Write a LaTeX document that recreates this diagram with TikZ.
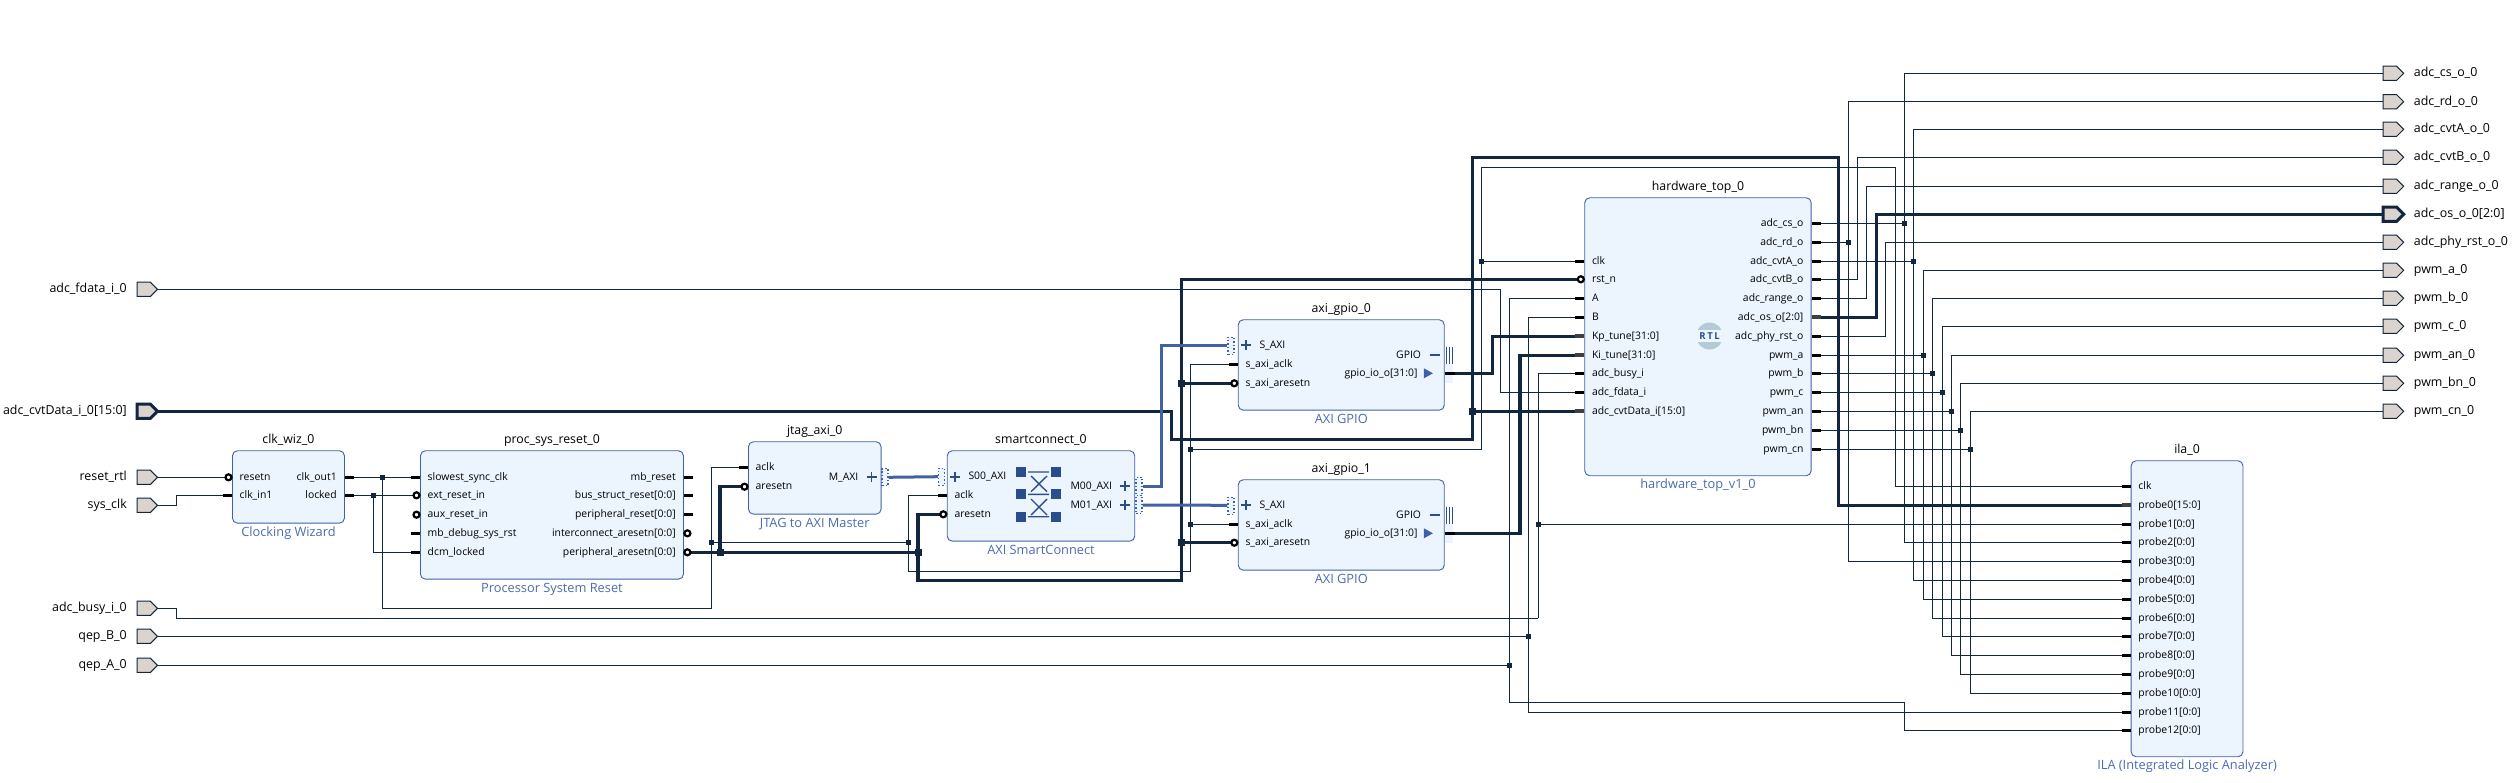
\documentclass[tikz,border=0pt]{standalone}
\usepackage{fontspec}
\setmainfont{Open Sans}
\usetikzlibrary{positioning,shapes.symbols}
\definecolor{wirecol}{HTML}{12263F}
\definecolor{ipblue}{HTML}{3F62A4}
\definecolor{icondark}{HTML}{2A4E8C}
\definecolor{ipfill}{HTML}{ECF4FE}
\definecolor{subcol}{HTML}{4A6CB0}
\definecolor{portfill}{HTML}{DBD3CE}
\definecolor{rtlcol}{HTML}{B4CAD6}
\pgfdeclarelayer{wires}
\pgfsetlayers{wires,main}
\tikzset{
    ipbox/.style={draw=ipblue, fill=ipfill, rounded corners=5pt, line width=0.9pt, anchor=north west, inner sep=0pt},
    iptitle/.style={font=\fontsize{12.3}{14}\selectfont, inner sep=0pt, text height=8.5pt, text depth=2.5pt},
    ipsub/.style={font=\fontsize{12.8}{14}\selectfont, text=subcol, inner sep=0pt, text height=8.5pt, text depth=2.5pt},
    pinl/.style={anchor=west, font=\fontsize{10.4}{11}\selectfont, inner xsep=7.5pt, inner ysep=0pt, text height=8.5pt, text depth=2pt},
    pinr/.style={anchor=east, font=\fontsize{10.4}{11}\selectfont, inner xsep=8pt, inner ysep=0pt, text height=8.5pt, text depth=2pt},
    stub/.style={black, line width=3pt},
    busstub/.style={black!75, line width=4pt},
    bubble/.style={draw=black, fill=white, line width=2.2pt},
    wire/.style={wirecol, line width=1pt},
    buswire/.style={wirecol, line width=3.2pt},
    axiwire/.style={ipblue, line width=3pt},
    axiplus/.style={icondark, line width=1.8pt},
    ifmark/.style={fill=ipfill, draw=ipblue, dash pattern=on 1.5pt off 2pt, line width=1.2pt, inner sep=0pt, minimum width=6pt},
    port/.style={signal, draw=wirecol, fill=portfill, line width=1pt, inner sep=0pt, outer sep=0pt, minimum width=20.5pt, minimum height=14.3pt, anchor=west},
    buswidth/.style={line width=3pt},
    portlab/.style={font=\fontsize{12.4}{14}\selectfont, inner sep=0pt, text height=9.5pt, text depth=2.5pt},
}

\begin{document}
\begin{tikzpicture}[x=1pt, y=-1pt]

\useasboundingbox (0,0) rectangle (2513,782);

\foreach \ip/\x/\y/\w/\h/\t/\s in {
    clk_wiz/232/450.3/112/72.4/clk\_wiz\_0/Clocking Wizard,
    proc_reset/420/450.3/263/128.4/proc\_sys\_reset\_0/Processor System Reset,
    jtag_axi/748/441.3/132.6/72.4/jtag\_axi\_0/JTAG to AXI Master,
    smartconnect/946.8/450.3/187.5/90.4/smartconnect\_0/AXI SmartConnect,
    axi_gpio_0/1237.8/319.3/206/90.4/axi\_gpio\_0/AXI GPIO,
    axi_gpio_1/1237.8/479.3/206/90.4/axi\_gpio\_1/AXI GPIO,
    hardware_top/1584.3/197.3/226.4/278/hardware\_top\_0/hardware\_top\_v1\_0,
    ila/2130.7/460.3/111.8/296/ila\_0/ILA (Integrated Logic Analyzer)}
{
    \node[ipbox, minimum width=\w pt, minimum height=\h pt] (\ip) at (\x,\y) {};
    \node[iptitle, above=4.5pt of \ip] (\ip_title) {\t};
    \node[ipsub, below=4pt of \ip] (\ip_sub) {\s};
}

\foreach \ip/\n/\y/\t in {
    clk_wiz/cw_clkin/495.3/clk\_in1,
    proc_reset/ps_slow/477.3/slowest\_sync\_clk,
    proc_reset/ps_debug/533.3/mb\_debug\_sys\_rst,
    proc_reset/ps_dcm/552.3/dcm\_locked,
    jtag_axi/ja_aclk/467.3/aclk,
    smartconnect/sc_aclk/495.3/aclk,
    axi_gpio_0/g0_aclk/364.3/s\_axi\_aclk,
    axi_gpio_1/g1_aclk/524.3/s\_axi\_aclk,
    hardware_top/hw_clk/261.3/clk,
    hardware_top/hw_A/298.3/A,
    hardware_top/hw_B/317.3/B,
    hardware_top/hw_kp/336.3/Kp\_tune[31:0],
    hardware_top/hw_ki/355.3/Ki\_tune[31:0],
    hardware_top/hw_busy/373.3/adc\_busy\_i,
    hardware_top/hw_fdata/392.3/adc\_fdata\_i,
    hardware_top/hw_cvt/411.3/adc\_cvtData\_i[15:0],
    ila/ila_clk/486.3/clk,
    ila/ila_0/505.3/probe0[15:0],
    ila/ila_1/524.3/probe1[0:0],
    ila/ila_2/542.3/probe2[0:0],
    ila/ila_3/561.3/probe3[0:0],
    ila/ila_4/580.3/probe4[0:0],
    ila/ila_5/599.3/probe5[0:0],
    ila/ila_6/618.3/probe6[0:0],
    ila/ila_7/636.3/probe7[0:0],
    ila/ila_8/655.3/probe8[0:0],
    ila/ila_9/674.3/probe9[0:0],
    ila/ila_10/693.3/probe10[0:0],
    ila/ila_11/712.3/probe11[0:0],
    ila/ila_12/730.3/probe12[0:0]}
{
    \node[pinl] (\n) at (\ip.west |- 0,\y) {\t};
    \draw[stub] (\n.west) -- ++(-9,0);
}

\foreach \ip/\n/\y/\t in {
    clk_wiz/cw_resetn/477.3/resetn,
    proc_reset/ps_ext/495.3/ext\_reset\_in,
    proc_reset/ps_aux/514.7/aux\_reset\_in,
    jtag_axi/ja_arst/486.7/aresetn,
    smartconnect/sc_arst/514.3/aresetn,
    axi_gpio_0/g0_arst/383.3/s\_axi\_aresetn,
    axi_gpio_1/g1_arst/542.7/s\_axi\_aresetn,
    hardware_top/hw_rst/279.3/rst\_n}
{
    \node[pinl] (\n) at (\ip.west |- 0,\y) {\t};
    \draw[bubble] (\n.west) ++(-3.5,0) circle (3);
}

\foreach \ip/\n/\y/\t in {
    clk_wiz/cw_out/477.3/clk\_out1,
    clk_wiz/cw_locked/495.3/locked,
    proc_reset/ps_mb/477.3/mb\_reset,
    proc_reset/ps_bus/495.3/bus\_struct\_reset[0:0],
    proc_reset/ps_per/514.7/peripheral\_reset[0:0],
    hardware_top/hw_cs/223.3/adc\_cs\_o,
    hardware_top/hw_rd/242.3/adc\_rd\_o,
    hardware_top/hw_cvtA/261.3/adc\_cvtA\_o,
    hardware_top/hw_cvtB/279.3/adc\_cvtB\_o,
    hardware_top/hw_range/298.3/adc\_range\_o,
    hardware_top/hw_os/317.3/adc\_os\_o[2:0],
    hardware_top/hw_phy/336.3/adc\_phy\_rst\_o,
    hardware_top/hw_a/355.3/pwm\_a,
    hardware_top/hw_b/373.3/pwm\_b,
    hardware_top/hw_c/392.3/pwm\_c,
    hardware_top/hw_an/411.3/pwm\_an,
    hardware_top/hw_bn/430.3/pwm\_bn,
    hardware_top/hw_cn/449.3/pwm\_cn}
{
    \node[pinr] (\n) at (\ip.east |- 0,\y) {\t};
    \draw[stub] (\n.east) -- ++(9,0);
}

\foreach \ip/\n/\y/\t in {
    proc_reset/ps_inter/533.3/interconnect\_aresetn[0:0],
    proc_reset/ps_parst/552.3/peripheral\_aresetn[0:0]}
{
    \node[pinr] (\n) at (\ip.east |- 0,\y) {\t};
    \draw[bubble] (\n.east) ++(3.5,0) circle (3);
}

\foreach \n in {hw_kp,hw_ki,hw_cvt,ila_0}
    \draw[busstub] (\n.west) -- ++(-9,0);
\draw[busstub] (hw_os.east) -- ++(9,0);

\foreach \ip/\n/\y/\t in {
    smartconnect/sc_s00/476.7/S00\_AXI,
    axi_gpio_0/g0_saxi/345.3/S\_AXI,
    axi_gpio_1/g1_saxi/505.3/S\_AXI}
{
    \node[pinl, inner xsep=21.5pt] (\n) at (\ip.west |- 0,\y) {\t};
    \draw[axiplus] (\n.west) ++(8.5,-5) -- ++(0,10) ++(-5,-5) -- ++(10,0);
}

\foreach \ip/\n/\y/\t in {
    jtag_axi/ja_maxi/477.3/M\_AXI,
    smartconnect/sc_m00/486.3/M00\_AXI,
    smartconnect/sc_m01/505/M01\_AXI}
{
    \node[pinr, inner xsep=23pt] (\n) at (\ip.east |- 0,\y) {\t};
    \draw[axiplus] (\n.east) ++(-10,-5) -- ++(0,10) ++(-5,-5) -- ++(10,0);
}

\foreach \g/\ip/\a/\b in {g0/axi_gpio_0/355/373.3, g1/axi_gpio_1/515/533.3}
{
    \node[pinr, inner xsep=23.5pt] (\g_gpio) at (\ip.east |- 0,\a) {GPIO};
    \node[pinr, inner xsep=27pt] (\g_out) at (\ip.east |- 0,\b) {gpio\_io\_o[31:0]};
    \draw[axiplus, line width=2pt] (\g_gpio.east) ++(-14.8,0) -- ++(10,0);
    \fill[ipblue] (\g_out.east) ++(-20.8,-5) -- ++(9,5) -- ++(-9,5) -- cycle;
    \fill[ipfill] (\g_out.east) ++(0,-9.5) rectangle ++(8.5,19);
    \draw[stub] (\g_out.east) -- ++(10,0);
    \foreach \d in {1.5,4.5,7.5}
        \draw[icondark, line width=1.2pt] (\g_gpio.east) ++(\d,-8.5) -- ++(0,17);
}

\node[ifmark, minimum height=17pt] (ja_if) at (885,477.3) {};
\node[ifmark, minimum height=17pt] (sc_if) at (941.5,476.7) {};
\node[ifmark, minimum height=18pt] (m00_if) at (1139,486.3) {};
\node[ifmark, minimum height=18pt] (m01_if) at (1139,504.3) {};
\node[ifmark, minimum height=17pt] (g0_if) at (1231,345.8) {};
\node[ifmark, minimum height=17pt] (g1_if) at (1231,505.8) {};

\foreach \px in {1016,1051}
    \foreach \py in {467,489,512}
        \fill[icondark] (\px,\py) rectangle ++(10,10);
\draw[icondark, line width=1.4pt]
    (1028,472) -- (1049,472) (1028,494.3) -- (1049,494.3) (1028,516.7) -- (1049,516.7)
    (1031,476) -- (1047,491.7) (1047,476) -- (1031,491.7)
    (1031,499) -- (1047,515) (1047,499) -- (1031,515);

\fill[rtlcol] (1709.6,336) circle (13.5);
\node[fill=ipfill, text=icondark, inner sep=0pt, minimum width=27pt, minimum height=12pt, font=\fontsize{9.5}{11}\selectfont\bfseries] (rtl_logo) at (1709.6,336) {R\,T\,L};

\foreach \n/\y/\t in {
    adc_fdata/289.3/adc\_fdata\_i\_0,
    reset_rtl/477.3/reset\_rtl,
    sys_clk/505.3/sys\_clk,
    adc_busy/608.3/adc\_busy\_i\_0,
    qep_B/636.3/qep\_B\_0,
    qep_A/665.3/qep\_A\_0}
{
    \node[port] (\n) at (137,\y) {};
    \node[portlab, left=10pt of \n] (\n_lab) {\t};
}
\node[port, buswidth] (adc_cvt) at (137,411.3) {};
\node[portlab, left=10pt of adc_cvt] (adc_cvt_lab) {adc\_cvtData\_i\_0[15:0]};

\foreach \n/\y/\t in {
    op_cs/73.3/adc\_cs\_o\_0,
    op_rd/101.7/adc\_rd\_o\_0,
    op_cvtA/129.3/adc\_cvtA\_o\_0,
    op_cvtB/157.3/adc\_cvtB\_o\_0,
    op_range/186.3/adc\_range\_o\_0,
    op_phy/242.3/adc\_phy\_rst\_o\_0,
    op_a/270.3/pwm\_a\_0,
    op_b/298.3/pwm\_b\_0,
    op_c/326.3/pwm\_c\_0,
    op_an/355.3/pwm\_an\_0,
    op_bn/383.3/pwm\_bn\_0,
    op_cn/411.3/pwm\_cn\_0}
{
    \node[port] (\n) at (2383.2,\y) {};
    \node[portlab, right=10pt of \n] (\n_lab) {\t};
}
\node[port, buswidth] (op_os) at (2383.2,214.3) {};
\node[portlab, right=10pt of op_os] (op_os_lab) {adc\_os\_o\_0[2:0]};

\coordinate (j_clk) at (382.5,477.3);
\coordinate (j_lock) at (373,495.3);
\coordinate (c_clkbus) at (711,608.3);
\coordinate (j_rst) at (711,542.3);
\coordinate (j_sc) at (908.5,542.3);
\coordinate (c_low) at (1190.5,571.3);
\coordinate (j_g1clk) at (1190.5,524.3);
\coordinate (j_hwclk) at (1190.5,449.3);
\coordinate (c_top) at (1481.8,167.3);
\coordinate (c_topr) at (1895.7,167.3);
\coordinate (j_hwck) at (1481.8,261.3);
\coordinate (j_jr) at (720,552.3);
\coordinate (j_scr) at (918,552.3);
\coordinate (c_rlow) at (1181.6,580.3);
\coordinate (j_g0r) at (1181.6,383.3);
\coordinate (j_g1r) at (1181.6,542.7);
\coordinate (c_cvt1) at (1171.6,439.3);
\coordinate (c_cvt2) at (1472.5,157.7);
\coordinate (c_cvt3) at (1838.6,157.7);
\coordinate (j_cvt) at (1472.5,411.3);
\coordinate (c_fd) at (1500.7,289.3);
\coordinate (j_A) at (1509.3,665.3);
\coordinate (c_p12) at (1904.6,702.7);
\coordinate (j_B) at (1528.2,636.3);
\coordinate (c_busy) at (1538.2,618.3);
\coordinate (j_busy) at (1538.2,524.3);

\begin{pgfonlayer}{wires}
\draw[wire] (reset_rtl.east) -- (cw_resetn.west);
\draw[wire] (sys_clk.east) -- ++(18.5,0) |- (cw_clkin.west);
\draw[wire] (cw_out.east) -- (ps_slow.west);
\draw[wire] (cw_locked.east) -- (ps_ext.west);
\draw[wire] (j_lock) |- (ps_dcm.west);
\draw[wire] (j_clk) |- (c_clkbus) |- (ja_aclk.west);
\draw[wire] (j_rst) -- (j_sc);
\draw[wire] (sc_aclk.west) -| (j_sc) |- (c_low) |- (g0_aclk.west);
\draw[wire] (j_g1clk) -- (g1_aclk.west);
\draw[wire] (j_hwclk) -| (c_top) -- (c_topr) |- (ila_clk.west);
\draw[wire] (j_hwck) -- (hw_clk.west);

\draw[buswire] (ps_parst.east) -- (j_scr);
\draw[buswire] (j_jr) |- (ja_arst.west);
\draw[buswire] (sc_arst.west) -| (j_scr) |- (c_rlow) |- (hw_rst.west);
\draw[buswire] (j_g0r) -- (g0_arst.west);
\draw[buswire] (j_g1r) -- (g1_arst.west);

\draw[buswire] (adc_cvt.east) -| (c_cvt1) -| (c_cvt2) -- (c_cvt3) |- (ila_0.west);
\draw[buswire] (j_cvt) -- (hw_cvt.west);
\draw[buswire] (g0_out.east) -- ++(48,0) |- (hw_kp.west);
\draw[buswire] (g1_out.east) -- ++(75.2,0) |- (hw_ki.west);

\draw[axiwire] (ja_if.east) -- (sc_if.west);
\draw[axiwire] (m00_if.east) -- ++(18.7,0) |- (g0_if.west);
\draw[axiwire] (m01_if.east |- sc_m01) -- (g1_if.west |- g1_saxi);

\draw[wire] (adc_fdata.east) -- (c_fd) |- (hw_fdata.west);
\draw[wire] (qep_A.east) -- (j_A);
\draw[wire] (hw_A.west) -| (j_A) |- (c_p12) |- (ila_12.west);
\draw[wire] (qep_B.east) -- (j_B);
\draw[wire] (hw_B.west) -| (j_B) |- (ila_11.west);
\draw[wire] (adc_busy.east) -- ++(18.5,0) |- (c_busy);
\draw[wire] (hw_busy.west) -| (c_busy);
\draw[wire] (j_busy) -- (ila_1.west);

\foreach \h/\i/\x in {
    cs/2/1904.6, rd/3/1848.2, cvtA/4/1913.6, a/5/1923.6, b/6/1932.5,
    c/7/1942.5, an/8/1951.4, bn/9/1960.7, cn/10/1970.4}
{
    \coordinate (j_\h) at (\x,0 |- hw_\h);
    \draw[wire] (hw_\h.east) -- (j_\h);
    \draw[wire] (op_\h.west) -| (j_\h) |- (ila_\i.west);
}

\foreach \h/\x in {cvtB/1857.5, range/1866.8, phy/1885.7}
    \draw[wire] (hw_\h.east) -- (\x,0 |- hw_\h) |- (op_\h.west);
\draw[buswire] (hw_os.east) -- (1876.4,0 |- hw_os) |- (op_os.west);
\end{pgfonlayer}

\foreach \j in {j_clk,j_lock,j_rst,j_sc,j_g1clk,j_hwclk,j_hwck,j_A,j_B,j_busy,
    j_cs,j_rd,j_cvtA,j_a,j_b,j_c,j_an,j_bn,j_cn}
    \fill[wirecol] (\j) ++(-2.5,-2.5) rectangle ++(5,5);

\foreach \j in {j_jr,j_scr,j_g0r,j_g1r,j_cvt}
    \fill[wirecol] (\j) ++(-3.5,-3.5) rectangle ++(7,7);

\end{tikzpicture}
\end{document}
